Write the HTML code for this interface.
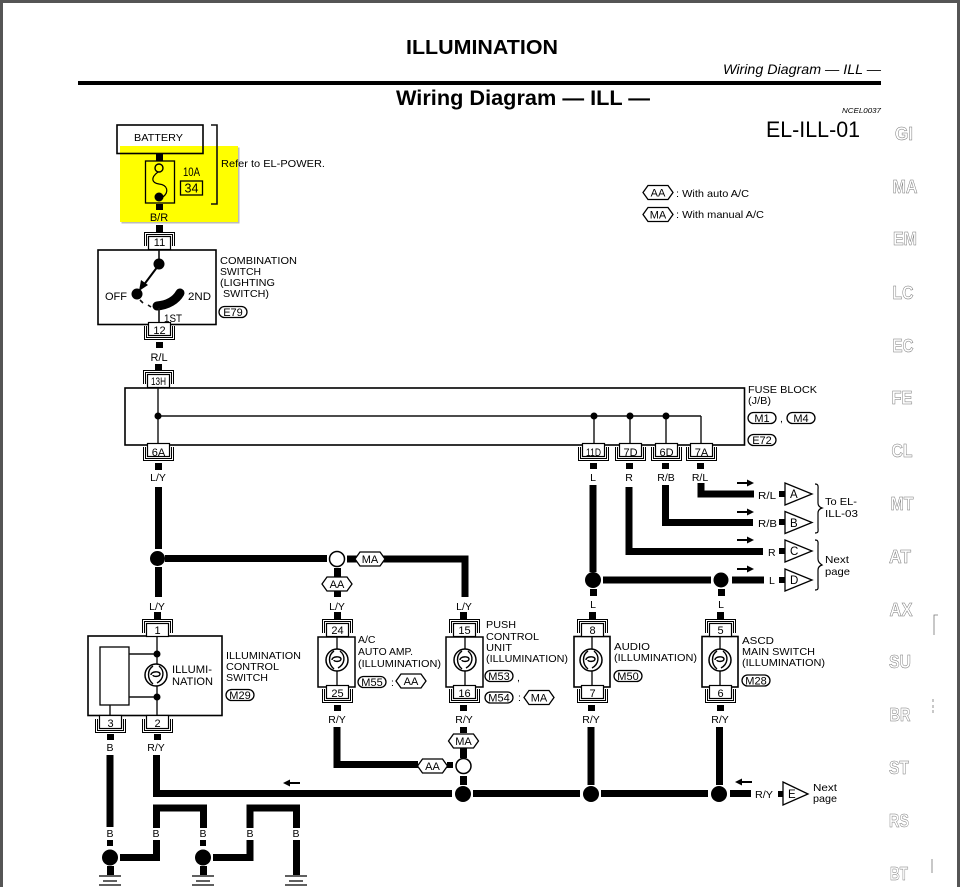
<!DOCTYPE html>
<html><head><meta charset="utf-8"><title>Wiring Diagram — ILL</title>
<style>
html,body{margin:0;padding:0;background:#fff}
svg{display:block}
text{font-family:"Liberation Sans",Arial,sans-serif;font-size:10.5px;fill:#000}
.c{text-anchor:middle}
.n{font-size:11px;text-anchor:middle}
.o{font-weight:bold;font-size:18px;fill:#fff;stroke:#777;stroke-width:.5;text-anchor:middle}
.w{fill:none;stroke:#000;stroke-width:7;stroke-linejoin:miter}
.t{fill:none;stroke:#111;stroke-width:1.4}
.h{fill:none;stroke:#111;stroke-width:1.6}
</style></head><body>
<svg width="960" height="887" viewBox="0 0 960 887" xmlns="http://www.w3.org/2000/svg">
<defs>
<g id="ct"><path d="M-14.5 14V.5H15.500V14M-12.500 14V2.500H13.500V14" fill="none" stroke="#000" stroke-width="1"/><rect x="-10.5" y="4.500" width="22" height="13" fill="#fff" stroke="#000" stroke-width="1.2"/></g>
<g id="cb"><path d="M-14.5 -14V-.5H15.500V-14M-12.500 -14V-2.500H13.500V-14" fill="none" stroke="#000" stroke-width="1"/><rect x="-10.5" y="-17.500" width="22" height="13" fill="#fff" stroke="#000" stroke-width="1.2"/></g>
<polygon id="tag" points="-15,0 -10,-7 10,-7 15,0 10,7 -10,7" fill="#fff" stroke="#000" stroke-width="1.3"/>
<rect id="pill" x="-14" y="-5.5" width="28" height="11" rx="5.5" fill="#fff" stroke="#000" stroke-width="1.3"/>
<g id="lamp"><circle r="11" fill="#fff" stroke="#000" stroke-width="1.5"/><path d="M-5 0C-5 -4 4 -4 4 -1C4 2 -3 2 -3 0M3 -9C9 -4 8 4 1 8M-3 -9C-9 -5 -9 4 -3 9" fill="none" stroke="#000" stroke-width="1.4"/></g>
<path id="ar" d="M0 -1H10V-3.5L17 0L10 3.5V1H0Z" fill="#000"/>
<polygon id="tri" points="0,-11 27,0 0,11" fill="#fff" stroke="#000" stroke-width="1.3"/>
<g id="gnd"><path d="M-3 0h7v9h-7z" fill="#000"/><path d="M-11 10H11M-7 15H7M-11 19H11" stroke="#000" stroke-width="1.3"/></g>
</defs>

<rect width="960" height="887" fill="#fff"/>
<path d="M1.5 887V1.5H958.5V887" fill="none" stroke="#555" stroke-width="3"/>

<!-- header -->
<text x="406" y="54" textLength="152" lengthAdjust="spacingAndGlyphs" style="font-weight:bold;font-size:20.5px">ILLUMINATION</text>
<text x="723" y="74" textLength="158" lengthAdjust="spacingAndGlyphs" style="font-style:italic;font-size:14px">Wiring Diagram — ILL —</text>
<rect x="78" y="81" width="803" height="4" fill="#000"/>
<text x="396" y="105" textLength="254" lengthAdjust="spacingAndGlyphs" style="font-weight:bold;font-size:21px">Wiring Diagram — ILL —</text>
<text x="842" y="113" textLength="39" lengthAdjust="spacingAndGlyphs" style="font-style:italic;font-size:7.5px">NCEL0037</text>
<text x="766" y="137" textLength="94" lengthAdjust="spacingAndGlyphs" style="font-size:22.5px">EL-ILL-01</text>

<!-- side index -->
<text class="o" x="904" y="140" textLength="18" lengthAdjust="spacingAndGlyphs">GI</text>
<text class="o" x="905" y="193" textLength="25" lengthAdjust="spacingAndGlyphs">MA</text>
<text class="o" x="905" y="245" textLength="24" lengthAdjust="spacingAndGlyphs">EM</text>
<text class="o" x="903" y="299" textLength="21" lengthAdjust="spacingAndGlyphs">LC</text>
<text class="o" x="903" y="352" textLength="21" lengthAdjust="spacingAndGlyphs">EC</text>
<text class="o" x="902" y="404" textLength="21" lengthAdjust="spacingAndGlyphs">FE</text>
<text class="o" x="902" y="457" textLength="21" lengthAdjust="spacingAndGlyphs">CL</text>
<text class="o" x="902" y="510" textLength="23" lengthAdjust="spacingAndGlyphs">MT</text>
<text class="o" x="900" y="563" textLength="22" lengthAdjust="spacingAndGlyphs">AT</text>
<text class="o" x="901" y="616" textLength="23" lengthAdjust="spacingAndGlyphs">AX</text>
<text class="o" x="900" y="668" textLength="22" lengthAdjust="spacingAndGlyphs">SU</text>
<text class="o" x="900" y="721" textLength="21" lengthAdjust="spacingAndGlyphs">BR</text>
<text class="o" x="899" y="774" textLength="20" lengthAdjust="spacingAndGlyphs">ST</text>
<text class="o" x="899" y="827" textLength="20" lengthAdjust="spacingAndGlyphs">RS</text>
<text class="o" x="899" y="880" textLength="18" lengthAdjust="spacingAndGlyphs">BT</text>
<path d="M938 615H934V635M933 699v3M933 705v3M933 710v3M932 859v14" fill="none" stroke="#777" stroke-width=".8"/>

<!-- legend -->
<use href="#tag" x="658" y="192.500"/><text class="n" x="658" y="196.500">AA</text>
<text x="676" y="197" textLength="73" lengthAdjust="spacingAndGlyphs">: With auto A/C</text>
<use href="#tag" x="658" y="214.500"/><text class="n" x="658" y="218.500">MA</text>
<text x="676" y="218" textLength="88" lengthAdjust="spacingAndGlyphs">: With manual A/C</text>

<!-- yellow highlight + battery / fuse -->
<rect x="121.500" y="147.500" width="118" height="76" fill="#bbb"/>
<rect x="120" y="146" width="118" height="76" fill="#ffff00"/>
<rect x="117" y="125" width="86" height="28.500" fill="none" stroke="#000" stroke-width="1.6"/>
<text x="134" y="141" textLength="49" lengthAdjust="spacingAndGlyphs">BATTERY</text>
<path d="M211 125H217V204H211" class="h"/>
<text x="221" y="167" textLength="104" lengthAdjust="spacingAndGlyphs">Refer to EL-POWER.</text>
<rect x="156" y="154" width="7" height="7" fill="#000"/>
<rect x="145.500" y="161" width="29" height="42" fill="none" stroke="#000" stroke-width="1.3"/>
<rect x="156" y="204" width="7" height="6" fill="#000"/>
<circle cx="159" cy="168" r="4" fill="none" stroke="#000" stroke-width="1.4"/>
<path d="M158 172C150 178 152 183 159 184C168 185 169 192 163 197" fill="none" stroke="#000" stroke-width="1.2"/>
<circle cx="159" cy="197" r="4.500" fill="#000"/>
<text x="183" y="176" textLength="17" lengthAdjust="spacingAndGlyphs" style="font-size:11.5px">10A</text>
<rect x="180.500" y="181" width="22" height="14" fill="none" stroke="#000" stroke-width="1.3"/>
<text class="c" x="191.500" y="192.500" style="font-size:12.5px">34</text>
<text class="n" x="159" y="221">B/R</text>
<rect x="156" y="225" width="7" height="7" fill="#000"/>

<!-- combination switch -->
<rect x="98" y="250" width="118" height="74.500" fill="#fff" stroke="#000" stroke-width="1.6"/>
<use href="#ct" x="159" y="232"/><text class="n" x="159.500" y="246">11</text>
<path d="M159 250V264" class="h"/>
<circle cx="159" cy="264" r="5.500" fill="#000"/>
<path d="M158 266L143 286" fill="none" stroke="#000" stroke-width="2"/><path d="M139 291L141 280L148 285Z" fill="#000"/>
<circle cx="137" cy="294" r="5.500" fill="#000"/>
<path d="M140 300L143 303M148 305L151 307" class="h"/>
<path d="M157 306C168 305 176 300 180 293" fill="none" stroke="#000" stroke-width="9" stroke-linecap="round"/>
<path d="M159 308V324" class="h"/>
<text x="105" y="300" textLength="22" lengthAdjust="spacingAndGlyphs" style="font-size:11px">OFF</text>
<text x="188" y="300" textLength="23" lengthAdjust="spacingAndGlyphs" style="font-size:11px">2ND</text>
<text x="164" y="322" textLength="18" lengthAdjust="spacingAndGlyphs" style="font-size:11px">1ST</text>
<text x="220" y="264" textLength="77" lengthAdjust="spacingAndGlyphs">COMBINATION</text>
<text x="220" y="275" textLength="41" lengthAdjust="spacingAndGlyphs">SWITCH</text>
<text x="220" y="286" textLength="55" lengthAdjust="spacingAndGlyphs">(LIGHTING</text>
<text x="223" y="297" textLength="46" lengthAdjust="spacingAndGlyphs">SWITCH)</text>
<use href="#pill" x="233" y="312"/><text class="n" x="233" y="316">E79</text>
<use href="#cb" x="159" y="340"/><text class="n" x="159.500" y="334">12</text>
<rect x="156" y="342" width="7" height="6" fill="#000"/>
<text class="n" x="159" y="361">R/L</text>
<rect x="155" y="364" width="7" height="7" fill="#000"/>

<!-- fuse block -->
<rect x="125" y="388" width="619.500" height="57" fill="#fff" stroke="#000" stroke-width="1.6"/>
<path d="M158 387V445M158 416H701M594 416V445M630 416V445M666 416V445M701 416V445" class="t"/>
<circle cx="158" cy="416" r="3.500" fill="#000"/>
<circle cx="594" cy="416" r="3.500" fill="#000"/><circle cx="630" cy="416" r="3.500" fill="#000"/><circle cx="666" cy="416" r="3.500" fill="#000"/>
<use href="#ct" x="158" y="370"/><text class="n" x="158.500" y="385" textLength="15" lengthAdjust="spacingAndGlyphs">13H</text>
<use href="#cb" x="158" y="461"/><text class="n" x="158.500" y="456">6A</text>
<use href="#cb" x="593" y="461"/><text class="n" x="593.500" y="456" textLength="15" lengthAdjust="spacingAndGlyphs">11D</text>
<use href="#cb" x="630" y="461"/><text class="n" x="630.500" y="456">7D</text>
<use href="#cb" x="666" y="461"/><text class="n" x="666.500" y="456">6D</text>
<use href="#cb" x="701" y="461"/><text class="n" x="701.500" y="456">7A</text>
<path d="M155 463h7v7h-7zM590 463h7v6h-7zM626 463h7v6h-7zM662 463h7v6h-7zM697 463h7v6h-7z" fill="#000"/>
<text x="748" y="393" textLength="69" lengthAdjust="spacingAndGlyphs">FUSE BLOCK</text>
<text x="748" y="404" textLength="23" lengthAdjust="spacingAndGlyphs">(J/B)</text>
<use href="#pill" x="762" y="418"/><text class="n" x="762" y="422">M1</text>
<text x="780" y="422">,</text>
<use href="#pill" x="801" y="418"/><text class="n" x="801" y="422">M4</text>
<use href="#pill" x="762" y="440"/><text class="n" x="762" y="444">E72</text>
<text class="c" x="158" y="481">L/Y</text><text class="c" x="593" y="481">L</text><text class="c" x="629" y="481">R</text><text class="c" x="666" y="481">R/B</text><text class="c" x="700" y="481">R/L</text>

<!-- outgoing wires right -->
<path class="w" d="M593 485V572"/>
<circle cx="593" cy="580" r="8" fill="#000"/>
<path class="w" d="M603 580H711"/>
<circle cx="721" cy="580" r="7.500" fill="#000"/>
<path class="w" d="M732 580H764"/>
<path class="w" d="M629 487V551.500H763"/>
<path class="w" d="M665.500 485V522.500H753"/>
<path class="w" d="M701 483V494H754"/>
<use href="#ar" x="737" y="483"/><use href="#ar" x="737" y="512"/><use href="#ar" x="737" y="540"/><use href="#ar" x="737" y="569"/>
<text x="758" y="499" textLength="18" lengthAdjust="spacingAndGlyphs">R/L</text>
<text x="758" y="527" textLength="19" lengthAdjust="spacingAndGlyphs">R/B</text>
<text x="768" y="556">R</text>
<text x="769" y="584">L</text>
<path d="M779 491h6v6h-6zM779 519h6v6h-6zM779 548h6v6h-6zM779 577h6v6h-6z" fill="#000"/>
<use href="#tri" x="785" y="494"/><text x="790" y="498" style="font-size:11.5px">A</text>
<use href="#tri" x="785" y="522.500"/><text x="790" y="527" style="font-size:11.5px">B</text>
<use href="#tri" x="785" y="551"/><text x="790" y="555" style="font-size:11.5px">C</text>
<use href="#tri" x="785" y="580"/><text x="790" y="584" style="font-size:11.5px">D</text>
<path d="M815 484C819 484 818 487 818 490V503C818 505 819 507 822 508C819 509 818 511 818 513V527C818 531 819 533 815 533" fill="none" stroke="#000" stroke-width="1.2"/>
<path d="M815 540C819 540 818 543 818 546V559C818 561 819 563 822 565C819 566 818 568 818 570V584C818 588 819 590 815 590" fill="none" stroke="#000" stroke-width="1.2"/>
<text x="825" y="505" textLength="32" lengthAdjust="spacingAndGlyphs">To EL-</text>
<text x="825" y="517" textLength="33" lengthAdjust="spacingAndGlyphs">ILL-03</text>
<text x="825" y="563" textLength="24" lengthAdjust="spacingAndGlyphs">Next</text>
<text x="825" y="575" textLength="25" lengthAdjust="spacingAndGlyphs">page</text>

<!-- left feed -->
<path class="w" d="M158.500 487V549M158.500 567V597"/>
<circle cx="157.500" cy="558.500" r="7.500" fill="#000"/>
<path class="w" d="M165 558.500H327"/>
<circle cx="337" cy="559" r="7.500" fill="#fff" stroke="#000" stroke-width="1.500"/>
<path class="w" d="M347 559H465V597"/>
<path class="w" d="M337.500 568V597"/>
<use href="#tag" x="370" y="559"/><text class="n" x="370" y="563">MA</text>
<use href="#tag" x="337" y="584"/><text class="n" x="337" y="588">AA</text>
<text class="c" x="157" y="610">L/Y</text><text class="c" x="337" y="610">L/Y</text><text class="c" x="464" y="610">L/Y</text>
<text class="c" x="593" y="608">L</text><text class="c" x="721" y="608">L</text>
<path d="M590 589h7v7h-7zM718 589h7v7h-7z" fill="#000"/>
<path d="M154 612h7v7h-7zM334 612h7v7h-7zM460 612h7v7h-7zM589 612h7v7h-7zM717 612h7v7h-7z" fill="#000"/>

<!-- illumination control switch -->
<rect x="88" y="636" width="134" height="79.500" fill="#fff" stroke="#000" stroke-width="1.6"/>
<rect x="100" y="647" width="29" height="58" fill="#fff" stroke="#000" stroke-width="1.3"/>
<path d="M157 636V716M129 654H157M129 697H157M110 705V716" class="t"/>
<circle cx="157" cy="654" r="3.500" fill="#000"/><circle cx="157" cy="697" r="3.500" fill="#000"/>
<use href="#lamp" x="156" y="675"/>
<text x="172" y="673" textLength="40" lengthAdjust="spacingAndGlyphs" style="font-size:11px">ILLUMI-</text>
<text x="172" y="685" textLength="41" lengthAdjust="spacingAndGlyphs" style="font-size:11px">NATION</text>
<text x="226" y="659" textLength="75" lengthAdjust="spacingAndGlyphs">ILLUMINATION</text>
<text x="226" y="670" textLength="53" lengthAdjust="spacingAndGlyphs">CONTROL</text>
<text x="226" y="681" textLength="42" lengthAdjust="spacingAndGlyphs">SWITCH</text>
<use href="#pill" x="240" y="695"/><text class="n" x="240" y="699">M29</text>
<use href="#ct" x="157" y="619"/><text class="n" x="157.500" y="634">1</text>
<use href="#cb" x="110" y="733"/><text class="n" x="110.500" y="727">3</text>
<use href="#cb" x="157" y="733"/><text class="n" x="157.500" y="727">2</text>
<path d="M107 734h7v6h-7zM154 734h7v6h-7z" fill="#000"/>
<text class="c" x="110" y="751">B</text><text class="c" x="156" y="751">R/Y</text>

<!-- A/C auto amp -->
<rect x="318" y="637" width="37" height="50" fill="#fff" stroke="#000" stroke-width="1.500"/>
<path d="M337 637V687" class="t"/>
<use href="#lamp" x="337" y="660"/>
<use href="#ct" x="337" y="619"/><text class="n" x="337.500" y="634">24</text>
<use href="#cb" x="337" y="703"/><text class="n" x="337.500" y="697">25</text>
<text x="358" y="643">A/C</text>
<text x="358" y="655" textLength="55" lengthAdjust="spacingAndGlyphs">AUTO AMP.</text>
<text x="358" y="667" textLength="83" lengthAdjust="spacingAndGlyphs">(ILLUMINATION)</text>
<use href="#pill" x="372" y="682"/><text class="n" x="372" y="686">M55</text>
<text x="391" y="686">:</text>
<use href="#tag" x="411" y="681"/><text class="n" x="411" y="685">AA</text>

<!-- push control -->
<rect x="446" y="637" width="37" height="50" fill="#fff" stroke="#000" stroke-width="1.500"/>
<path d="M465 637V687" class="t"/>
<use href="#lamp" x="465" y="660"/>
<use href="#ct" x="464" y="619"/><text class="n" x="464.500" y="634">15</text>
<use href="#cb" x="464" y="703"/><text class="n" x="464.500" y="697">16</text>
<text x="486" y="628" textLength="30" lengthAdjust="spacingAndGlyphs">PUSH</text>
<text x="486" y="640" textLength="53" lengthAdjust="spacingAndGlyphs">CONTROL</text>
<text x="486" y="651" textLength="26" lengthAdjust="spacingAndGlyphs">UNIT</text>
<text x="486" y="662" textLength="82" lengthAdjust="spacingAndGlyphs">(ILLUMINATION)</text>
<use href="#pill" x="499" y="676"/><text class="n" x="499" y="680">M53</text>
<text x="517" y="681">,</text>
<use href="#pill" x="499" y="697.500"/><text class="n" x="499" y="701.500">M54</text>
<text x="518" y="701">:</text>
<use href="#tag" x="539" y="697.500"/><text class="n" x="539" y="701.500">MA</text>

<!-- audio -->
<rect x="574" y="636.500" width="36" height="50.500" fill="#fff" stroke="#000" stroke-width="1.600"/>
<path d="M592 637V687" class="t"/>
<use href="#lamp" x="591" y="660"/>
<use href="#ct" x="592" y="619"/><text class="n" x="592.500" y="634">8</text>
<use href="#cb" x="592" y="703"/><text class="n" x="592.500" y="697">7</text>
<text x="614" y="650" textLength="36" lengthAdjust="spacingAndGlyphs">AUDIO</text>
<text x="614" y="661" textLength="83" lengthAdjust="spacingAndGlyphs">(ILLUMINATION)</text>
<use href="#pill" x="628" y="676"/><text class="n" x="628" y="680">M50</text>

<!-- ascd -->
<rect x="702" y="636.500" width="36" height="50.500" fill="#fff" stroke="#000" stroke-width="1.600"/>
<path d="M720 637V687" class="t"/>
<use href="#lamp" x="720" y="660"/>
<use href="#ct" x="720" y="619"/><text class="n" x="720.500" y="634">5</text>
<use href="#cb" x="720" y="703"/><text class="n" x="720.500" y="697">6</text>
<text x="742" y="644" textLength="32" lengthAdjust="spacingAndGlyphs">ASCD</text>
<text x="742" y="655" textLength="73" lengthAdjust="spacingAndGlyphs">MAIN SWITCH</text>
<text x="742" y="666" textLength="83" lengthAdjust="spacingAndGlyphs">(ILLUMINATION)</text>
<use href="#pill" x="756" y="680.500"/><text class="n" x="756" y="684.500">M28</text>

<!-- lower stubs + labels -->
<path d="M334 705h7v6h-7zM460 705h7v6h-7zM588 705h7v6h-7zM717 705h7v6h-7z" fill="#000"/>
<text class="c" x="337" y="723">R/Y</text><text class="c" x="464" y="723">R/Y</text><text class="c" x="591" y="723">R/Y</text><text class="c" x="720" y="723">R/Y</text>

<!-- return bus -->
<path class="w" d="M337 727V764.500H418"/>
<rect x="447" y="762" width="6" height="6" fill="#000"/>
<use href="#tag" x="432.500" y="766"/><text class="n" x="432.500" y="770">AA</text>
<rect x="460" y="727" width="7" height="6" fill="#000"/>
<use href="#tag" x="463.500" y="741"/><text class="n" x="463.500" y="745">MA</text>
<rect x="460" y="748" width="7" height="10" fill="#000"/>
<circle cx="463.500" cy="766" r="7.500" fill="#fff" stroke="#000" stroke-width="1.500"/>
<rect x="460" y="776" width="7" height="9" fill="#000"/>
<path class="w" d="M156.500 755V793.500H452M473 793.500H580M601 793.500H708M730 793.500H751"/>
<path class="w" d="M591 727V785M719.500 727V785"/>
<circle cx="463" cy="794" r="8" fill="#000"/><circle cx="591" cy="794" r="8" fill="#000"/><circle cx="719" cy="794" r="8" fill="#000"/>
<use href="#ar" transform="translate(300,783) scale(-1,1)"/>
<use href="#ar" transform="translate(752,782) scale(-1,1)"/>
<text x="755" y="798" textLength="18" lengthAdjust="spacingAndGlyphs">R/Y</text>
<rect x="778" y="791" width="6" height="6" fill="#000"/>
<polygon points="783,782 808,794 783,805" fill="#fff" stroke="#000" stroke-width="1.300"/>
<text x="788" y="798" style="font-size:11.5px">E</text>
<text x="813" y="791" textLength="24" lengthAdjust="spacingAndGlyphs">Next</text>
<text x="813" y="802" textLength="24" lengthAdjust="spacingAndGlyphs">page</text>

<!-- grounds -->
<path class="w" d="M110 755V827"/>
<text class="c" x="110" y="837">B</text><text class="c" x="156" y="837">B</text><text class="c" x="203" y="837">B</text><text class="c" x="250" y="837">B</text><text class="c" x="296" y="837">B</text>
<rect x="107" y="840" width="6" height="6" fill="#000"/>
<rect x="200" y="840" width="6" height="6" fill="#000"/>
<circle cx="110" cy="857.500" r="8" fill="#000"/>
<circle cx="203" cy="857.500" r="8" fill="#000"/>
<path class="w" d="M120 857.500H156.500V840"/>
<path class="w" d="M213 857.500H250V840"/>
<path class="w" d="M156.500 828V808H203.500V828"/>
<path class="w" d="M250 828V808H296.500V828"/>
<use href="#gnd" x="110" y="866"/>
<use href="#gnd" x="203" y="866"/>
<path class="w" d="M296.500 840V875"/>
<use href="#gnd" x="296" y="866"/>
</svg>
</body></html>
